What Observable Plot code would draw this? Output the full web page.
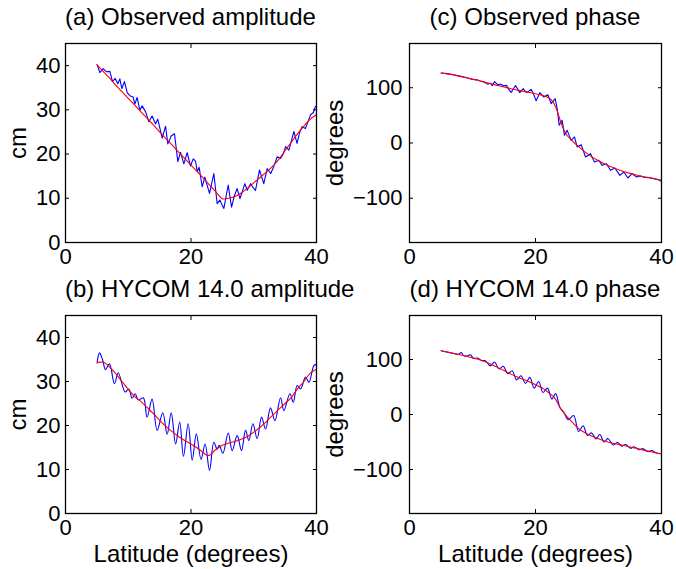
<!DOCTYPE html>
<html><head><meta charset="utf-8">
<script src="https://cdn.jsdelivr.net/npm/d3@7"></script>
<script src="https://cdn.jsdelivr.net/npm/@observablehq/plot@0.6"></script>
<style>
body{margin:0;background:#fff;}
#chart{position:relative;width:676px;height:569px;font-family:"Liberation Sans",Arial,Helvetica,sans-serif;color:#000;background:#fff;}
.panel{position:absolute;}
.title{position:absolute;font-size:24px;line-height:24px;text-align:center;white-space:nowrap;}
</style></head><body><div id="chart"></div>
<script>
// ---- data (latitude in degrees) ----
const xTicks = [0, 20, 40];
const ampTicks = [0, 10, 20, 30, 40];
const phaseTicks = [-100, 0, 100];

// (a) Observed amplitude (cm)
const latObsA = [5.05,5.47,6.0,6.53,7.07,7.49,7.92,8.34,8.66,8.98,9.4,9.83,10.25,10.78,11.05,11.42,11.85,12.22,12.75,13.28,13.81,14.35,14.7,15.41,15.94,16.31,16.84,17.37,17.9,18.33,18.86,19.39,19.92,20.35,20.72,21.0,21.3,21.78,22.2,22.95,23.64,24.17,24.6,24.97,25.24,25.6,25.93,26.46,26.9,27.36,27.79,28.2,28.58,28.96,29.5,29.9,30.28,30.92,31.6,32.14,32.7,33.2,33.74,34.27,34.7,35.07,35.6,36.0,36.4,36.9,37.3,37.7,38.25,38.7,39.05,39.5,39.85,40.0];
const ampObsA = [40.2,38.4,39.3,38.6,38.7,36.4,37.1,35.9,37.0,34.8,36.4,33.9,33.2,32.9,31.3,32.8,29.9,30.9,29.6,27.3,28.6,26.8,27.9,23.6,26.3,22.3,24.1,24.6,18.3,20.4,17.8,20.3,17.3,18.9,18.4,16.0,17.0,12.6,14.8,11.1,15.6,8.8,9.6,8.4,7.7,10.5,13.0,8.0,10.5,12.2,9.9,11.6,13.3,11.8,13.3,12.4,11.8,16.4,13.3,16.7,15.6,17.2,19.4,19.0,20.0,21.7,20.9,23.0,25.1,22.4,24.8,26.2,25.8,27.5,28.9,29.4,30.8,30.6];
const latFitA = [5,6,7,8,9,10,11,12,13,14,15,16,17,18,19,20,21,22,23,24,25,26,27,28,29,30,31,32,33,34,35,36,37,38,39,40];
const ampFitA = [40.2,38.7,37.2,35.6,34.1,32.6,31.1,29.6,28.1,26.6,25.0,23.5,22.0,20.5,19.0,17.5,16.0,14.5,12.9,11.4,9.9,10.0,10.4,11.2,12.3,13.5,14.7,15.9,17.2,18.8,20.8,22.7,24.6,26.3,27.9,28.9];

// (b) HYCOM 14.0 amplitude (cm)
const latObsB = [5.05,5.42,5.9,6.37,7.0,7.8,8.4,9.5,10.1,10.6,11.1,11.6,12.4,13.0,13.8,14.6,15.5,16.2,16.85,17.55,18.2,18.8,19.55,20.2,20.85,21.6,22.25,22.95,23.64,24.17,24.5,25.08,25.93,26.56,27.36,28.05,28.69,29.22,29.86,30.55,31.24,31.88,32.67,33.37,34.27,34.8,35.76,36.3,36.92,37.46,38.25,38.8,39.58,40.0];
const ampObsB = [34.4,36.5,35.0,32.7,34.0,29.5,32.0,27.6,28.3,26.2,27.2,25.8,26.3,21.9,26.0,18.9,22.9,18.0,22.9,15.8,20.8,13.0,20.4,12.1,18.1,12.3,15.8,9.8,16.2,14.6,15.5,13.7,18.3,14.3,17.7,14.3,18.9,16.6,20.4,17.0,21.9,19.2,24.0,21.1,26.3,23.4,27.2,25.3,29.1,28.3,31.0,29.8,33.6,33.9];
const latFitB = [5,5.5,6,6.5,7,8,9,10,11,12,13,14,15,16,17,18,19,20,21,22,22.6,23,24,25,26,27,28,29,30,31,32,33,34,35,36,37,38,39,40];
const ampFitB = [34.2,34.4,34.4,34.0,33.3,31.8,30.0,28.2,26.6,25.5,24.1,22.7,21.2,19.8,18.6,17.5,16.6,15.8,14.9,13.8,13.2,13.3,14.6,15.5,16.0,16.4,16.9,17.5,18.5,19.6,20.9,22.3,23.7,25.0,26.4,28.4,30.0,31.9,32.8];

// (c) Observed phase (degrees)
const latObsC = [5.03,6,7,8,9,10,10.7,11.2,11.8,12.4,12.86,13.12,13.5,14.0,14.45,14.9,15.4,15.7,16.14,16.5,16.83,17.2,17.51,18.04,18.4,18.68,19.3,19.7,20.1,20.69,21.32,21.96,22.49,23.12,23.44,23.76,24.23,24.6,25.03,25.66,26.19,26.61,27.25,27.94,28.73,29.36,30.05,30.58,31.27,31.9,32.6,33.39,34.02,34.66,35.34,36.03,36.67,37.3,38.0,38.78,39.4,39.95];
const phObsC = [126.6,125.5,123.5,121,118.5,115,114.5,112,110.4,106.5,108,103.5,111.0,105.5,106.5,103.5,104.3,98,91.5,98,104,97,91.1,98.3,93,91.5,97.1,88,76.5,91.1,83.2,87.4,71.2,80.2,62.1,32,41,13.9,22.9,4.8,10.9,-7.2,-3.0,-25.3,-19.3,-34.4,-31.4,-40.4,-37.4,-49.4,-45.2,-58.5,-52.5,-63.3,-55.5,-61.5,-59.7,-62.5,-62.8,-64.5,-66,-69.3];
const latFitC = [5,6,7,8,9,10,11,12,13,14,15,16,17,18,19,20,21,22,22.5,23,23.5,24,24.5,25,26,27,28,29,30,31,32,33,34,35,36,37,38,39,40];
const phFitC = [126.6,125,123,120.5,118,115.5,113,110,107,104,101.3,98.5,96,93.5,91.5,89,86.5,82.5,78,70,56,38,24,14,2,-8,-17.5,-25.5,-32,-38,-43,-47.5,-51.5,-55,-58,-60.5,-62.5,-65,-67.5];

// (d) HYCOM 14.0 phase (degrees)
const latObsD = [5.03,6.2,7.2,7.8,8.2,8.6,9.1,9.65,10.2,10.8,11.4,12.05,12.8,13.5,14.2,14.9,15.6,16.3,17.0,17.7,18.4,19.1,19.8,20.5,21.2,21.9,22.6,23.2,23.9,24.5,25.2,26.05,26.85,27.55,28.25,28.9,29.6,30.2,30.9,31.5,32.3,33.0,33.7,34.3,35.1,35.6,36.5,37.0,37.9,38.4,39.2,39.95];
const phObsD = [115.8,113.0,110.6,109.6,112.6,106.8,106.2,108.6,101.8,102.6,98.2,97.8,88.4,95.4,83.0,87.8,74.2,79.6,63.0,70.5,56.5,67.5,48.0,60.0,40.0,48.0,28.0,38.0,12.0,4.0,-9.5,-2.0,-31.0,-20.5,-38.0,-33.5,-44.5,-36.5,-50.0,-43.5,-55.5,-51.0,-57.5,-54.5,-61.5,-58.5,-64.0,-62.0,-67.5,-65.5,-70.0,-71.2];
const latFitD = [5,6,7,8,9,10,11,12,13,14,15,16,17,18,19,20,21,22,23,24,25,26,27,28,29,30,31,32,33,34,35,36,37,38,39,40];
const phFitD = [115.8,113.5,111,108.5,106,103,100,96,91,85.5,80,74,68.5,64,59.5,54,48.5,40.5,30.5,11,-4,-16,-27,-34,-39.5,-44,-48,-51.5,-54,-56.5,-59,-61.5,-64.5,-67,-69.5,-71.5];

const titles = ["(a) Observed amplitude", "(b) HYCOM 14.0 amplitude", "(c) Observed phase", "(d) HYCOM 14.0 phase"];
const yLabels = ["cm", "degrees"];
const xLabel = "Latitude (degrees)";

// ---- drawing ----
const FONT = '"Liberation Sans", Arial, Helvetica, sans-serif';
const rows = (lat, v) => lat.map((x, i) => ({lat: x, v: v[i]}));

function panel(o) {
  return Plot.plot({
    width: o.width, height: o.height,
    marginLeft: o.ml, marginRight: o.mr, marginTop: o.mt, marginBottom: o.mb,
    style: {fontFamily: FONT, fontSize: "22px", color: "#000", background: "transparent", overflow: "visible"},
    x: {domain: [0, 40]},
    y: {domain: o.yDomain},
    marks: [
      Plot.line(rows(o.latObs, o.obs), {x: "lat", y: "v", stroke: "#0000ff", strokeWidth: 1.1, curve: o.obsCurve}),
      Plot.line(rows(o.latFit, o.fit), {x: "lat", y: "v", stroke: "#ff0000", strokeWidth: 1.1, curve: "catmull-rom"}),
      Plot.frame({stroke: "#000", strokeWidth: 1.3}),
      Plot.axisX(xTicks, {anchor: "bottom", tickSize: 0, tickPadding: 6, fontSize: 22, label: null}),
      Plot.axisX(xTicks, {anchor: "bottom", tickSize: -4, fill: "none", label: null}),
      Plot.axisX(xTicks, {anchor: "top", tickSize: -4, fill: "none", label: null}),
      Plot.axisY(o.yTicks, {anchor: "left", tickSize: 0, tickPadding: o.tp, fontSize: 22, label: null}),
      Plot.axisY(o.yTicks, {anchor: "left", tickSize: -4, fill: "none", label: null}),
      Plot.axisY(o.yTicks, {anchor: "right", tickSize: -4, fill: "none", label: null}),
      Plot.text([o.yLabel], {text: d => d, frameAnchor: "left", rotate: -90, dx: -o.ylo, lineAnchor: "top", textAnchor: "middle", fontSize: 24}),
      o.xLabel ? Plot.text([o.xLabel], {text: d => d, frameAnchor: "bottom", dy: o.xlo, lineAnchor: "bottom", textAnchor: "middle", fontSize: 24}) : null
    ]
  });
}

const chart = document.getElementById("chart");
function place(el, left, top) {
  const wrap = document.createElement("div");
  wrap.className = "panel";
  wrap.style.left = left + "px";
  wrap.style.top = top + "px";
  wrap.appendChild(el);
  chart.appendChild(wrap);
}

const ampDomain = [0, 45], phDomain = [-180, 180];
place(panel({width: 338, height: 280, ml: 65, mr: 22, mt: 43, mb: 38, yDomain: ampDomain, yTicks: ampTicks, tp: 5,
  latObs: latObsA, obs: ampObsA, latFit: latFitA, fit: ampFitA, obsCurve: "linear", yLabel: yLabels[0], ylo: 57}), 0, 0);
place(panel({width: 338, height: 280, ml: 71, mr: 15, mt: 43, mb: 38, yDomain: phDomain, yTicks: phaseTicks, tp: 7,
  latObs: latObsC, obs: phObsC, latFit: latFitC, fit: phFitC, obsCurve: "linear", yLabel: yLabels[1], ylo: 84}), 338, 0);
place(panel({width: 338, height: 289, ml: 65, mr: 22, mt: 35, mb: 56, yDomain: ampDomain, yTicks: ampTicks, tp: 5,
  latObs: latObsB, obs: ampObsB, latFit: latFitB, fit: ampFitB, obsCurve: "catmull-rom", yLabel: yLabels[0], ylo: 57, xLabel: xLabel, xlo: 48.5}), 0, 280);
place(panel({width: 338, height: 289, ml: 71, mr: 15, mt: 35, mb: 56, yDomain: phDomain, yTicks: phaseTicks, tp: 7,
  latObs: latObsD, obs: phObsD, latFit: latFitD, fit: phFitD, obsCurve: "catmull-rom", yLabel: yLabels[1], ylo: 84, xLabel: xLabel, xlo: 48.5}), 338, 280);

function addTitle(text, left, width, top) {
  const t = document.createElement("div");
  t.className = "title";
  t.textContent = text;
  t.style.left = left + "px";
  t.style.width = width + "px";
  t.style.top = top + "px";
  chart.appendChild(t);
}
addTitle(titles[0], 65, 251, 5);
addTitle(titles[2], 409, 252, 5);
addTitle(titles[1], 65, 251, 277);
addTitle(titles[3], 409, 252, 277);
</script>
</body></html>
